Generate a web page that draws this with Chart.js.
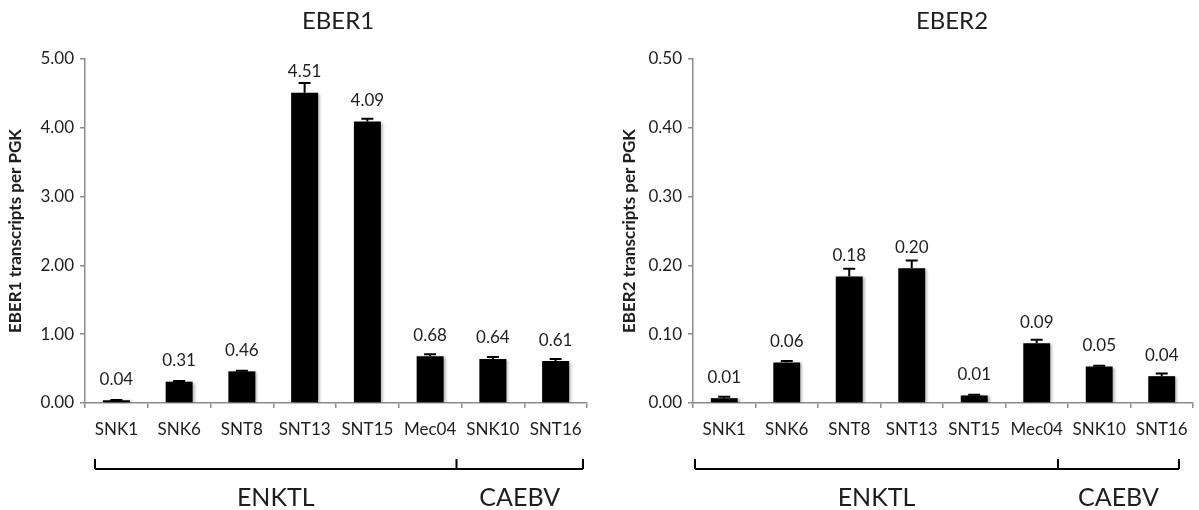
<!DOCTYPE html>
<html>
<head>
<meta charset="utf-8">
<script src="https://cdn.jsdelivr.net/npm/chart.js@4/dist/chart.umd.min.js"></script>
<style>
  html, body { margin: 0; padding: 0; background: #ffffff; overflow: hidden; }
  #wrap { position: relative; width: 1199px; height: 510px; }
  canvas { position: absolute; top: 0; }
  #c1 { left: 0; }
  #c2 { left: 600px; }
</style>
</head>
<body>
<div id="wrap">
  <canvas id="c1" width="600" height="510"></canvas>
  <canvas id="c2" width="599" height="510"></canvas>
</div>
<script>
// Cell lines, in plotting order
const categories = ['SNK1', 'SNK6', 'SNT8', 'SNT13', 'SNT15', 'Mec04', 'SNK10', 'SNT16'];

// EBER1 transcripts per PGK (mean) and upper error
const eber1Values = [0.04, 0.31, 0.46, 4.51, 4.09, 0.68, 0.64, 0.61];
const eber1Errors = [0.005, 0.01, 0.01, 0.14, 0.04, 0.03, 0.03, 0.03];

// EBER2 transcripts per PGK (mean) and upper error
const eber2Values = [0.007, 0.059, 0.184, 0.196, 0.011, 0.087, 0.053, 0.039];
const eber2Errors = [0.002, 0.002, 0.011, 0.011, 0.001, 0.005, 0.001, 0.004];

// Y axis ranges and tick steps
const eber1Axis = [0, 5, 1];
const eber2Axis = [0, 0.5, 0.1];

// Disease groups under the x axis
const groupLabels = ['ENKTL', 'CAEBV'];
const groupSizes = [6, 2];

const FONT = 'Lato, "Open Sans", sans-serif';
const AXIS_GREY = '#8c8c8c';
const TEXT = '#1e1e1e';

// Upward error bars with caps
const errorBarPlugin = {
  id: 'errorBars',
  afterDatasetsDraw(chart, args, opts) {
    const { ctx } = chart;
    const y = chart.scales.y;
    const meta = chart.getDatasetMeta(0);
    const values = chart.data.datasets[0].data;
    ctx.save();
    ctx.strokeStyle = '#000';
    ctx.lineWidth = 2;
    meta.data.forEach((bar, i) => {
      const top = y.getPixelForValue(values[i] + opts.errors[i]);
      const base = y.getPixelForValue(values[i]);
      ctx.beginPath();
      ctx.moveTo(bar.x, base);
      ctx.lineTo(bar.x, top);
      ctx.moveTo(bar.x - 6, top);
      ctx.lineTo(bar.x + 6, top);
      ctx.stroke();
    });
    ctx.restore();
  }
};

// Soft shadow behind the bars
const barShadowPlugin = {
  id: 'barShadow',
  beforeDatasetsDraw(chart) {
    const { ctx } = chart;
    ctx.save();
    ctx.shadowColor = 'rgba(0,0,0,0.35)';
    ctx.shadowBlur = 3;
    ctx.shadowOffsetX = 2;
    ctx.shadowOffsetY = 1;
  },
  afterDatasetsDraw(chart) {
    chart.ctx.restore();
  }
};

// Value labels above each bar
const valueLabelPlugin = {
  id: 'valueLabels',
  afterDatasetsDraw(chart) {
    const { ctx } = chart;
    const meta = chart.getDatasetMeta(0);
    const values = chart.data.datasets[0].data;
    ctx.save();
    ctx.font = '17px ' + FONT;
    ctx.fillStyle = TEXT;
    ctx.textAlign = 'center';
    ctx.textBaseline = 'middle';
    meta.data.forEach((bar, i) => {
      ctx.fillText(values[i].toFixed(2), bar.x, bar.y - 21);
    });
    ctx.restore();
  }
};

// Chart heading centred over the plot
const headingPlugin = {
  id: 'heading',
  afterDraw(chart, args, opts) {
    const { ctx, chartArea } = chart;
    ctx.save();
    ctx.font = '24px ' + FONT;
    ctx.fillStyle = TEXT;
    ctx.textAlign = 'center';
    ctx.textBaseline = 'middle';
    ctx.fillText(opts.text, (chartArea.left + chartArea.right) / 2 + opts.shift, 21);
    ctx.restore();
  }
};

// Group brackets and names below the category labels
const groupBracketPlugin = {
  id: 'groupBrackets',
  afterDraw(chart, args, opts) {
    const { ctx } = chart;
    const x = chart.scales.x;
    const w = x.width / categories.length;
    const edges = [x.left];
    let acc = 0;
    groupSizes.forEach(n => { acc += n; edges.push(x.left + acc * w); });
    const px = edges.map((e, i) => e + opts.insets[i]);
    const lineY = 469, tickTop = 459;
    ctx.save();
    ctx.strokeStyle = '#000';
    ctx.lineWidth = 2;
    ctx.beginPath();
    ctx.moveTo(px[0], lineY);
    ctx.lineTo(px[px.length - 1], lineY);
    px.forEach(p => { ctx.moveTo(p, lineY); ctx.lineTo(p, tickTop); });
    ctx.stroke();
    ctx.font = '25px ' + FONT;
    ctx.fillStyle = TEXT;
    ctx.textAlign = 'center';
    ctx.textBaseline = 'middle';
    groupLabels.forEach((g, i) => {
      ctx.fillText(g, (px[i] + px[i + 1]) / 2, 498);
    });
    ctx.restore();
  }
};

function makeChart(id, values, errors, axis, cfg) {
  return new Chart(document.getElementById(id), {
    type: 'bar',
    data: {
      labels: categories,
      datasets: [{
        data: values,
        backgroundColor: '#000',
        borderWidth: 0,
        barPercentage: 0.43,
        categoryPercentage: 1.0
      }]
    },
    options: {
      responsive: false,
      animation: false,
      events: [],
      layout: { padding: { top: 59, left: 0, right: cfg.padRight, bottom: 0 } },
      plugins: {
        legend: { display: false },
        tooltip: { enabled: false },
        errorBars: { errors: errors },
        heading: { text: cfg.title, shift: cfg.titleShift },
        groupBrackets: { insets: cfg.insets }
      },
      scales: {
        x: {
          afterFit(scale) { scale.height = 107; },
          border: { color: AXIS_GREY, width: 1.5 },
          grid: {
            offset: true,
            drawOnChartArea: false,
            drawTicks: true,
            tickLength: 5,
            color: AXIS_GREY,
            lineWidth: 1.5
          },
          ticks: {
            color: TEXT,
            padding: 11,
            maxRotation: 0,
            autoSkip: false,
            font: { family: FONT, size: 17 }
          }
        },
        y: {
          min: axis[0],
          max: axis[1],
          afterFit(scale) { scale.width = cfg.yWidth; },
          border: { color: AXIS_GREY, width: 1.5 },
          grid: {
            drawOnChartArea: false,
            drawTicks: true,
            tickLength: 5,
            color: AXIS_GREY,
            lineWidth: 1.5
          },
          ticks: {
            stepSize: axis[2],
            color: TEXT,
            padding: 6,
            font: { family: FONT, size: 17 },
            callback: v => Number(v).toFixed(2)
          },
          title: {
            display: true,
            text: cfg.yTitle,
            color: TEXT,
            padding: { top: cfg.yTitlePad, bottom: 0 },
            font: { family: FONT, size: 17, weight: 'bold' }
          }
        }
      }
    },
    plugins: [barShadowPlugin, errorBarPlugin, valueLabelPlugin, headingPlugin, groupBracketPlugin]
  });
}

makeChart('c1', eber1Values, eber1Errors, eber1Axis, {
  title: 'EBER1', titleShift: 2,
  yTitle: 'EBER1 transcripts per PGK', yTitlePad: 5,
  yWidth: 85, padRight: 13,
  insets: [10, -5, -4]
});

makeChart('c2', eber2Values, eber2Errors, eber2Axis, {
  title: 'EBER2', titleShift: 9,
  yTitle: 'EBER2 transcripts per PGK', yTitlePad: 19,
  yWidth: 93, padRight: 5,
  insets: [2, -10, -14]
});
</script>
</body>
</html>
